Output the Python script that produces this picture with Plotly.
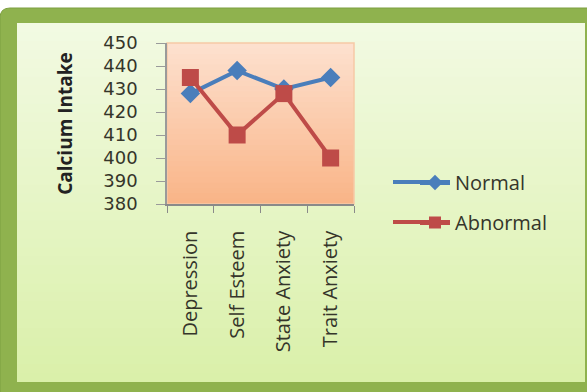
import plotly.graph_objects as go

# Data
categories = ["Depression", "Self Esteem", "State Anxiety", "Trait Anxiety"]
normal = [428, 438, 430, 435]
abnormal = [435, 410, 428, 400]
y_ticks = [380, 390, 400, 410, 420, 430, 440, 450]

W, H = 587, 392
L, R, T, B = 167, 354, 43, 204  # plot area in pixels

BLUE = "#4a7ebb"
RED = "#be4b48"


def px(x):
    return (x - L) / (R - L)


def py(y):
    return (B - y) / (B - T)


def mix(c1, c2, t):
    return "rgb({},{},{})".format(*[round(a + (b - a) * t) for a, b in zip(c1, c2)])


shapes = []


def rounded_rect(x0, y0, x1, y1, r):
    return (f"M {px(x0 + r)} {py(y0)} L {px(x1 - r)} {py(y0)} "
            f"Q {px(x1)} {py(y0)} {px(x1)} {py(y0 + r)} "
            f"L {px(x1)} {py(y1 - r)} Q {px(x1)} {py(y1)} {px(x1 - r)} {py(y1)} "
            f"L {px(x0 + r)} {py(y1)} Q {px(x0)} {py(y1)} {px(x0)} {py(y1 - r)} "
            f"L {px(x0)} {py(y0 + r)} Q {px(x0)} {py(y0)} {px(x0 + r)} {py(y0)} Z")


def gradient(x0, x1, y0, y1, c_top, c_bot, n):
    # stacked bands, each running to the bottom edge so no seams show
    out = []
    for i in range(n):
        a = y0 + (y1 - y0) * i / n
        out.append(dict(type="rect", xref="paper", yref="paper", layer="below",
                        x0=px(x0), x1=px(x1), y0=py(a), y1=py(y1),
                        fillcolor=mix(c_top, c_bot, i / (n - 1)), line=dict(width=0)))
    return out


# Green outer frame with rounded corners
shapes.append(dict(type="path", xref="paper", yref="paper", layer="below",
                   path=rounded_rect(0, 8, 600, 400, 10),
                   fillcolor="#8fb24e", line=dict(color="#7d9f40", width=1)))

# Inner panel
shapes += gradient(17, 585, 23, 382, (242, 250, 226), (218, 240, 170), 40)

# Plot area
shapes += gradient(L, R, T, B, (253, 224, 206), (249, 181, 136), 30)
shapes.append(dict(type="rect", xref="paper", yref="paper", layer="below",
                   x0=0, x1=1, y0=0, y1=1, fillcolor="rgba(0,0,0,0)",
                   line=dict(color="#f6c9a6", width=1.5)))

# Longer legend key lines
for yy, col in [(182, BLUE), (222, RED)]:
    shapes.append(dict(type="line", xref="paper", yref="paper", layer="above",
                       x0=px(393), x1=px(424), y0=py(yy), y1=py(yy),
                       line=dict(color=col, width=4)))

font_fam = "Open Sans, DejaVu Sans, sans-serif"
txt = "#35352a"

fig = go.Figure()
fig.add_trace(go.Scatter(
    x=categories, y=normal, name="Normal", mode="lines+markers", legendgroup="n",
    line=dict(color=BLUE, width=4),
    marker=dict(symbol="diamond", size=15, color=BLUE)))
fig.add_trace(go.Scatter(
    x=categories, y=abnormal, name="Abnormal", mode="lines+markers", legendgroup="a",
    line=dict(color=RED, width=4),
    marker=dict(symbol="square", size=17, color=RED)))

fig.update_layout(
    width=W, height=H,
    margin=dict(l=L, r=W - R, t=T, b=H - B),
    paper_bgcolor="white", plot_bgcolor="rgba(0,0,0,0)",
    shapes=shapes,
    font=dict(family=font_fam, size=20, color=txt),
    showlegend=True,
    legend=dict(x=px(415), y=py(163), xanchor="left", yanchor="top",
                bgcolor="rgba(0,0,0,0)", font=dict(size=20, color=txt),
                traceorder="grouped", tracegroupgap=11, itemsizing="constant"),
    xaxis=dict(type="category", range=[-0.5, 3.5], tickangle=-90,
               showline=True, linecolor="#8a8a8a", linewidth=1.5,
               ticks="outside", tickson="boundaries", ticklen=7, tickcolor="#8a8a8a",
               ticklabelstandoff=17,
               showgrid=False, tickfont=dict(size=20, color=txt), fixedrange=True),
    yaxis=dict(range=[380, 450], tickvals=y_ticks, ticktext=[str(v) for v in y_ticks],
               showline=True, linecolor="#9a9a9a", linewidth=1.5,
               ticks="outside", ticklen=9, tickcolor="#9a9a9a",
               ticklabelstandoff=15,
               showgrid=False, zeroline=False,
               tickfont=dict(family="DejaVu Sans, sans-serif", size=18, color=txt),
               title=dict(text="<b>Calcium Intake</b>", font=dict(size=19, color="#222"),
                          standoff=26), fixedrange=True),
)

fig.write_html("out.html")
